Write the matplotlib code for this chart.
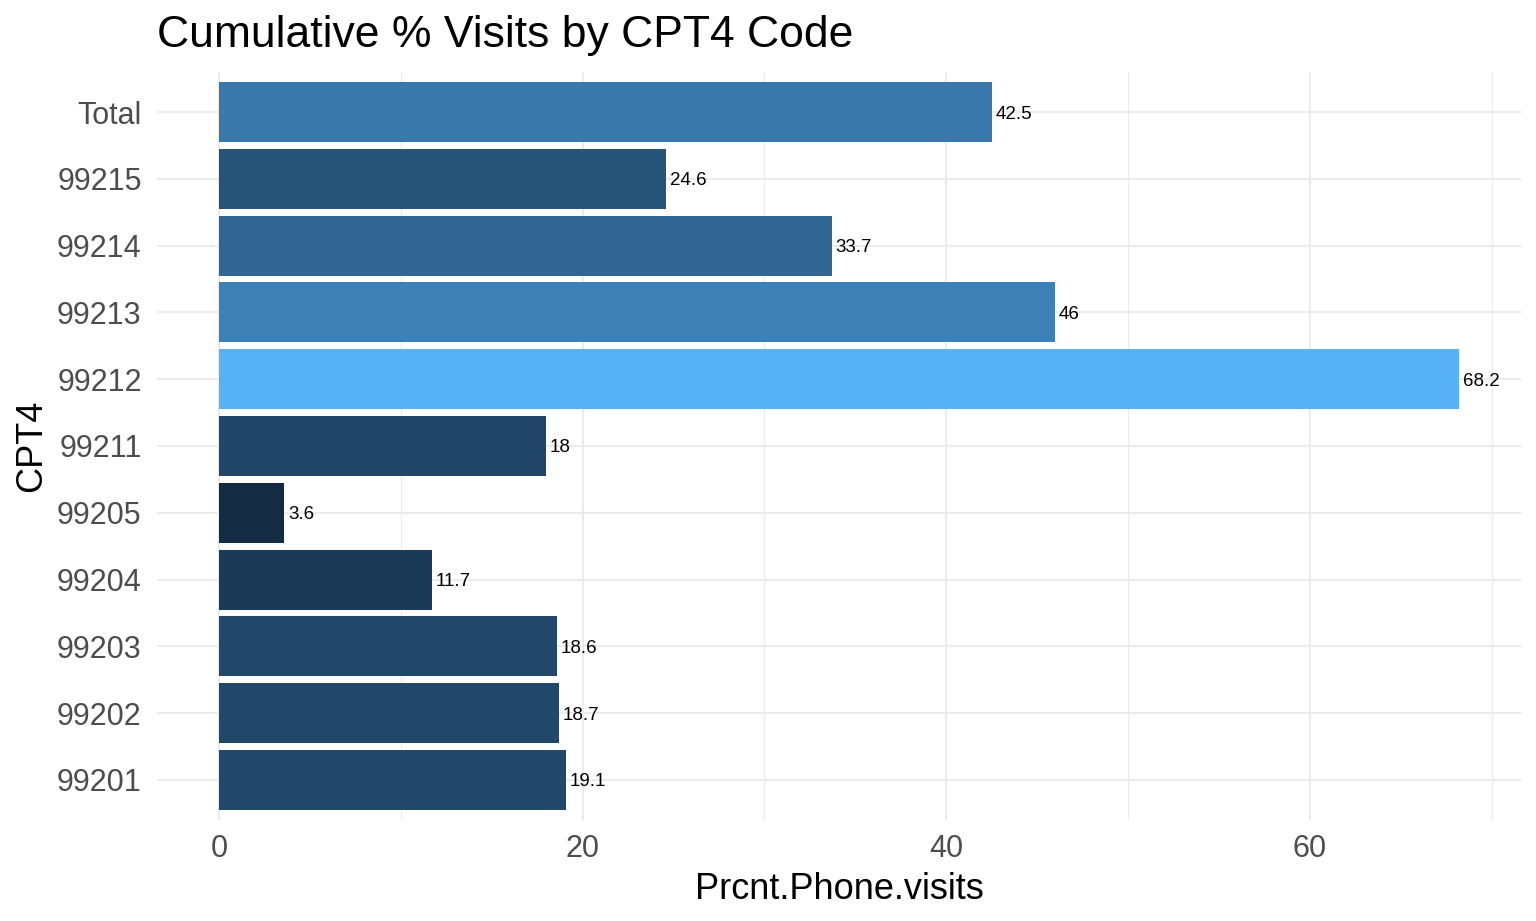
import numpy as np
import matplotlib
matplotlib.use("Agg")
import matplotlib.pyplot as plt
from matplotlib.ticker import MultipleLocator

categories = ["99201", "99202", "99203", "99204", "99205", "99211",
              "99212", "99213", "99214", "99215", "Total"]
values = [19.1, 18.7, 18.6, 11.7, 3.6, 18.0, 68.2, 46.0, 33.7, 24.6, 42.5]
labels = ["19.1", "18.7", "18.6", "11.7", "3.6", "18", "68.2", "46", "33.7", "24.6", "42.5"]

plt.rcParams['font.family'] = ['Liberation Sans', 'DejaVu Sans']

# ggplot2 default continuous gradient (#132B43 -> #56B1F7) in CIELAB
def hex2rgb(h):
    h = h.lstrip('#')
    return np.array([int(h[i:i+2], 16) / 255 for i in (0, 2, 4)])

def srgb2lin(c):
    return np.where(c <= 0.04045, c / 12.92, ((c + 0.055) / 1.055) ** 2.4)

def lin2srgb(c):
    c = np.clip(c, 0, 1)
    return np.where(c <= 0.0031308, 12.92 * c, 1.055 * c ** (1 / 2.4) - 0.055)

M = np.array([[0.4124, 0.3576, 0.1805], [0.2126, 0.7152, 0.0722], [0.0193, 0.1192, 0.9505]])
WP = np.array([0.95047, 1.0, 1.08883])

def f(t):
    d = 6 / 29
    return np.where(t > d ** 3, np.cbrt(t), t / (3 * d * d) + 4 / 29)

def finv(t):
    d = 6 / 29
    return np.where(t > d, t ** 3, 3 * d * d * (t - 4 / 29))

def rgb2lab(rgb):
    xyz = M @ srgb2lin(rgb) / WP
    fx, fy, fz = f(xyz)
    return np.array([116 * fy - 16, 500 * (fx - fy), 200 * (fy - fz)])

def lab2rgb(lab):
    L, a, b = lab
    fy = (L + 16) / 116
    fx = fy + a / 500
    fz = fy - b / 200
    xyz = np.array([finv(fx), finv(fy), finv(fz)]) * WP
    return lin2srgb(np.linalg.inv(M) @ xyz)

lo, hi = rgb2lab(hex2rgb('#132B43')), rgb2lab(hex2rgb('#56B1F7'))
vmin, vmax = min(values), max(values)
colors = [tuple(lab2rgb(lo + (v - vmin) / (vmax - vmin) * (hi - lo))) for v in values]

fig = plt.figure(figsize=(15.36, 9.21), dpi=100)
ax = fig.add_axes([157 / 1536, 1 - 820 / 921, (1521 - 157) / 1536, (820 - 72) / 921])

y = np.arange(len(categories))
ax.barh(y, values, height=0.9, color=colors, zorder=2)
for yi, v, lab in zip(y, values, labels):
    ax.text(v + 0.2, yi, lab, va='center_baseline', ha='left', fontsize=13.5,
            color='black', zorder=3)

xmax = max(values)
ax.set_xlim(-0.05 * xmax, xmax * 1.05)
ax.set_ylim(-0.6, len(categories) - 0.4)
ax.set_yticks(y)
ax.set_yticklabels(categories)
ax.xaxis.set_major_locator(MultipleLocator(20))
ax.xaxis.set_minor_locator(MultipleLocator(10))

ax.grid(True, which='major', color='#EBEBEB', linewidth=1.5, zorder=0)
ax.grid(True, which='minor', axis='x', color='#EBEBEB', linewidth=0.8, zorder=0)
ax.set_axisbelow(True)
for s in ax.spines.values():
    s.set_visible(False)
ax.tick_params(axis='both', which='both', length=0, labelsize=22, labelcolor='#4D4D4D')
ax.tick_params(axis='x', pad=10)
ax.tick_params(axis='y', pad=11)

ax.set_xlabel('Prcnt.Phone.visits', fontsize=26, labelpad=6)
ax.set_ylabel('CPT4', fontsize=26, labelpad=6)
fig.text(157 / 1536, 1 - 36 / 921, 'Cumulative % Visits by CPT4 Code', fontsize=32,
         va='center', ha='left')

fig.savefig('out.png', dpi=100)
